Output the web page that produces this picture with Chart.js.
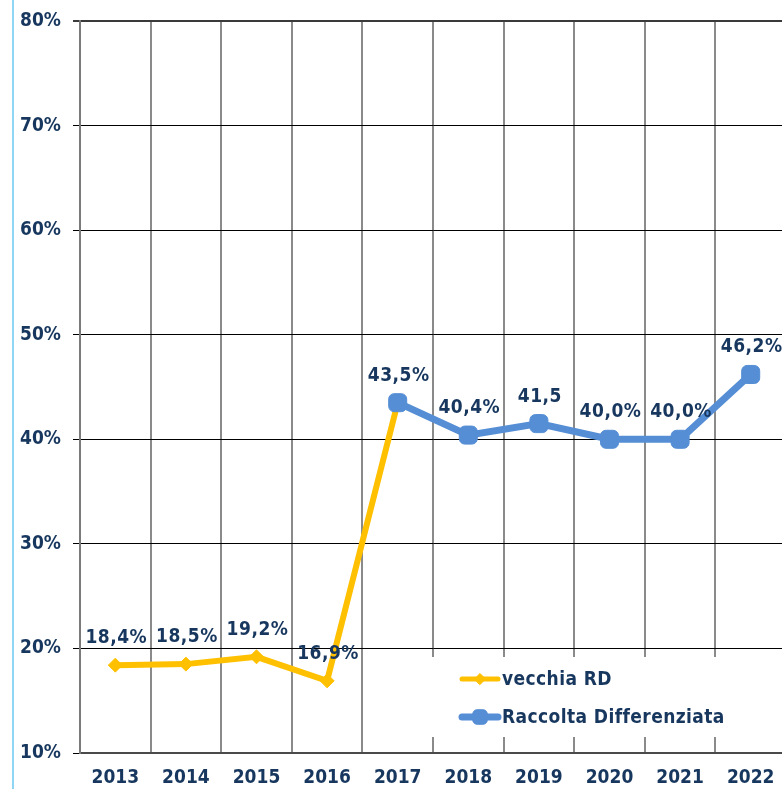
<!DOCTYPE html>
<html>
<head>
<meta charset="utf-8">
<script src="https://cdn.jsdelivr.net/npm/chart.js@4.4.1/dist/chart.umd.min.js"></script>
<style>
    html, body { margin: 0; padding: 0; overflow: hidden; background: #fff; }
    #wrap { position: relative; width: 786px; height: 789px; }
</style>
</head>
<body>
<div id="wrap"><canvas id="rdChart" width="786" height="789"></canvas></div>
<script>
const years = ['2013', '2014', '2015', '2016', '2017', '2018', '2019', '2020', '2021', '2022'];
const vecchiaRD = [18.4, 18.5, 19.2, 16.9, 43.5, null, null, null, null, null];
const raccoltaDifferenziata = [null, null, null, null, 43.5, 40.4, 41.5, 40.0, 40.0, 46.2];
const valueLabels = ['18,4%', '18,5%', '19,2%', '16,9%', '43,5%', '40,4%', '41,5', '40,0%', '40,0%', '46,2%'];
const seriesNames = ['vecchia RD', 'Raccolta Differenziata'];

const NAVY = '#17375E';
const YELLOW = '#FFC000';
const BLUE = '#558ED5';
const FONT = '"DejaVu Sans Condensed", "DejaVu Sans", sans-serif';

// thin light-blue rule on the far left
const sideLine = {
    id: 'sideLine',
    beforeDraw(chart) {
        const ctx = chart.ctx;
        ctx.save();
        ctx.fillStyle = '#8ED6F4';
        ctx.fillRect(12, 0, 2, chart.height);
        ctx.restore();
    }
};

// value labels above each point
const pointLabels = {
    id: 'pointLabels',
    afterDatasetsDraw(chart) {
        const ctx = chart.ctx;
        ctx.save();
        ctx.font = 'bold 19px ' + FONT;
        ctx.fillStyle = NAVY;
        ctx.textAlign = 'center';
        ctx.textBaseline = 'middle';
        if ('letterSpacing' in ctx) ctx.letterSpacing = '0.5px';
        valueLabels.forEach((txt, i) => {
            const ds = raccoltaDifferenziata[i] !== null ? 1 : 0;
            const pt = chart.getDatasetMeta(ds).data[i];
            if (!pt) return;
            ctx.fillText(txt, pt.x + 1, pt.y - 27);
        });
        ctx.restore();
    }
};

// legend drawn inside the plot, on a white box
const boxLegend = {
    id: 'boxLegend',
    afterDraw(chart) {
        const ctx = chart.ctx;
        const H = Chart.helpers;
        ctx.save();
        ctx.fillStyle = '#fff';
        ctx.fillRect(425, 657, 361, 80);

        const rows = [
            { y: 679, color: YELLOW, lw: 5, style: 'rectRot', r: 5.5 },
            { y: 717, color: BLUE, lw: 7, style: 'rectRounded', r: 8.5 }
        ];
        rows.forEach((row, i) => {
            ctx.strokeStyle = row.color;
            ctx.lineWidth = row.lw;
            ctx.lineCap = 'round';
            ctx.beginPath();
            ctx.moveTo(462, row.y);
            ctx.lineTo(498, row.y);
            ctx.stroke();
            ctx.fillStyle = row.color;
            ctx.lineWidth = 1;
            H.drawPoint(ctx, { pointStyle: row.style, radius: row.r, borderWidth: 1 }, 480, row.y);

            ctx.fillStyle = NAVY;
            ctx.font = 'bold 19px ' + FONT;
            ctx.textAlign = 'left';
            ctx.textBaseline = 'middle';
            if ('letterSpacing' in ctx) ctx.letterSpacing = '0.4px';
            ctx.fillText(seriesNames[i], 502, row.y + 1);
        });
        ctx.restore();
    }
};

new Chart(document.getElementById('rdChart'), {
    type: 'line',
    data: {
        labels: years,
        datasets: [
            {
                label: seriesNames[0],
                data: vecchiaRD,
                borderColor: YELLOW,
                backgroundColor: YELLOW,
                borderWidth: 6,
                pointStyle: 'rectRot',
                pointRadius: vecchiaRD.map((v, i) => raccoltaDifferenziata[i] !== null ? 0 : 7),
                pointBorderWidth: 1,
                pointBorderColor: YELLOW,
                tension: 0,
                order: 2
            },
            {
                label: seriesNames[1],
                data: raccoltaDifferenziata,
                borderColor: BLUE,
                backgroundColor: BLUE,
                borderWidth: 7,
                pointStyle: 'rectRounded',
                pointRadius: 10.5,
                pointBorderWidth: 1,
                pointBorderColor: BLUE,
                tension: 0,
                order: 1
            }
        ]
    },
    options: {
        responsive: false,
        animation: false,
        layout: { autoPadding: false, padding: { top: 21, right: 0, left: 0, bottom: 0 } },
        plugins: {
            legend: { display: false },
            tooltip: { enabled: false }
        },
        scales: {
            x: {
                offset: true,
                grid: {
                    offset: true,
                    color: '#8A8A8A',
                    lineWidth: 2,
                    drawTicks: false
                },
                border: { color: '#4A4A4A', width: 2 },
                ticks: {
                    color: NAVY,
                    font: { family: FONT, size: 19, weight: 'bold' },
                    padding: 14,
                    maxRotation: 0
                },
                afterFit(scale) {
                    scale.height = 36;
                    scale.paddingLeft = 0;
                    scale.paddingRight = 0;
                }
            },
            y: {
                min: 10,
                max: 80,
                grid: {
                    color: ctx => ctx.tick && ctx.tick.value === 80 ? '#3A3A3A' : '#000',
                    lineWidth: ctx => ctx.tick && ctx.tick.value === 80 ? 2 : 1,
                    tickLength: 7
                },
                border: { color: '#7A7A7A', width: 2 },
                ticks: {
                    stepSize: 10,
                    color: NAVY,
                    font: { family: FONT, size: 19, weight: 'bold' },
                    padding: 12,
                    callback: v => v + '%'
                },
                afterFit(scale) {
                    scale.width = 80;
                    scale.paddingTop = 0;
                    scale.paddingBottom = 0;
                }
            }
        }
    },
    plugins: [sideLine, pointLabels, boxLegend]
});
</script>
</body>
</html>
